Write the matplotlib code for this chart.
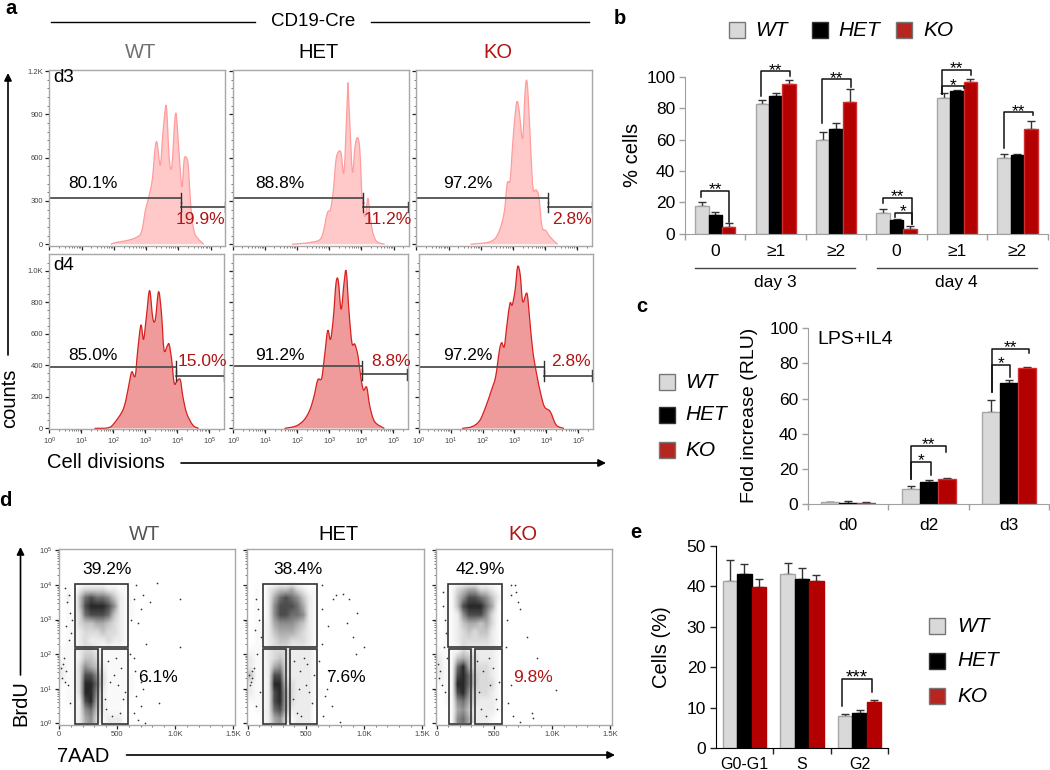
import numpy as np
import matplotlib
matplotlib.use('Agg')
import matplotlib.pyplot as plt
from matplotlib.colors import PowerNorm
from matplotlib.patches import PathPatch, Rectangle
from matplotlib.path import Path
from matplotlib.transforms import ScaledTranslation

plt.rcParams['font.family'] = ['Liberation Sans', 'DejaVu Sans']
plt.rcParams['mathtext.default'] = 'regular'

W, H = 1050, 770
GREY_TXT = '#707070'
RED_TXT = '#b01414'

# panel a histograms: x in decades, y in counts
d3_wt_x = [1.90, 2.09, 2.39, 2.70, 2.86, 2.98, 3.07, 3.19, 3.28, 3.34, 3.44, 3.52, 3.60, 3.64, 3.72, 3.80, 3.89, 3.94, 4.01, 4.11, 4.18, 4.25, 4.31, 4.38, 4.48, 4.60, 4.79]
d3_wt_y = [0, 14, 25, 48, 88, 238, 314, 445, 665, 704, 549, 766, 946, 927, 586, 542, 862, 890, 676, 399, 586, 600, 540, 284, 99, 42, 0]
d3_het_x = [1.84, 2.45, 2.76, 2.94, 3.04, 3.13, 3.21, 3.29, 3.37, 3.46, 3.56, 3.58, 3.63, 3.72, 3.80, 3.88, 3.95, 4.02, 4.11, 4.20, 4.27, 4.36, 4.48, 4.72]
d3_het_y = [0, 14, 48, 215, 242, 376, 584, 642, 630, 503, 999, 1115, 884, 503, 676, 739, 653, 330, 192, 318, 192, 76, 18, 0]
d3_ko_x = [1.68, 2.29, 2.54, 2.72, 2.82, 2.91, 2.99, 3.09, 3.15, 3.21, 3.30, 3.37, 3.42, 3.47, 3.55, 3.62, 3.72, 3.80, 3.90, 4.02, 4.14, 4.38]
d3_ko_y = [0, 18, 76, 215, 422, 445, 699, 953, 983, 884, 734, 1046, 1138, 1023, 653, 388, 376, 330, 122, 95, 53, 0]
d4_wt_x = [1.41, 1.84, 2.02, 2.27, 2.39, 2.52, 2.58, 2.68, 2.76, 2.86, 2.94, 3.03, 3.13, 3.23, 3.31, 3.41, 3.50, 3.58, 3.68, 3.74, 3.82, 3.90, 3.99, 4.09, 4.17, 4.29, 4.48, 4.66]
d4_wt_y = [0, 4, 32, 106, 180, 317, 359, 332, 497, 655, 564, 708, 873, 698, 691, 866, 729, 497, 522, 533, 433, 285, 302, 307, 201, 95, 21, 0]
d4_het_x = [1.60, 1.96, 2.21, 2.39, 2.52, 2.64, 2.76, 2.85, 2.95, 3.04, 3.13, 3.21, 3.28, 3.37, 3.46, 3.53, 3.62, 3.71, 3.80, 3.90, 3.99, 4.07, 4.17, 4.27, 4.42, 4.72]
d4_het_y = [0, 15, 53, 116, 201, 307, 317, 455, 619, 564, 708, 920, 937, 755, 920, 994, 729, 539, 533, 455, 317, 243, 260, 137, 42, 0]
d4_ko_x = [1.36, 1.67, 1.91, 2.10, 2.28, 2.41, 2.53, 2.60, 2.68, 2.77, 2.86, 2.93, 3.02, 3.10, 3.18, 3.26, 3.39, 3.47, 3.57, 3.69, 3.82, 3.94, 4.12, 4.31, 4.55]
d4_ko_y = [0, 11, 49, 137, 243, 328, 497, 543, 518, 666, 793, 782, 877, 1025, 973, 803, 856, 708, 497, 349, 222, 137, 106, 21, 0]

# gates: split position, left gate level, right gate level
d3_split = [4.07, 4.05, 4.07]
d3_left = [323, 323, 323]
d3_right = [261, 261, 261]
d4_split = [3.95, 4.01, 3.94]
d4_left = [389, 393, 389]
d4_right = [334, 342, 334]

d3_pct = ['80.1%', '88.8%', '97.2%']
d3_pct_red = ['19.9%', '11.2%', '2.8%']
d4_pct = ['85.0%', '91.2%', '97.2%']
d4_pct_red = ['15.0%', '8.8%', '2.8%']

# panel d density read by eye, 0-9, columns 50 units wide from 0, rows 0.25 decade, top row 4.0-4.25
dens_wt = ["00000000000000", "01023333221100", "02047877642110", "01048999862110",
           "01137888742110", "01134455432100", "01123334332100", "01123222322100",
           "11123321111100", "11124431111100", "21136542111100", "21138863111110",
           "11139973111110", "01139962111110", "01128952111100", "00126742111000",
           "00125631222000"]
dens_het = ["00000000000000", "01023445321100", "01025787642100", "01026888752100",
            "01026887762100", "01125666542100", "01124555432100", "01123443332100",
            "11123332222100", "21123432222100", "21125632222100", "41128832222100",
            "21129943222100", "21128953222110", "11128953222100", "01127852222000",
            "00125631222000"]
dens_ko = ["00000000000000", "01134553321010", "01146887642010", "01148999751000",
           "01126888631000", "01124554531000", "01123434421000", "01123333321000",
           "11113222221000", "21145432221000", "21179533321000", "21189743321000",
           "11199743331000", "01189633321000", "01167532221000", "00156422221000",
           "00167522210000"]

# stray dots around the dense part
stray_wt_x = [660, 840, 1040, 640, 700, 720, 780, 1040, 750, 620, 680, 640, 700, 660, 860, 700, 720, 640, 680, 740, 610, 650,
              30, 60, 20, 50, 80, 70, 90, 60, 85, 40, 75, 95, 15, 45, 110, 105, 420, 470, 510, 550, 400, 450, 530, 570, 440, 490, 390, 520]
stray_wt_y = [4.0, 4.05, 3.6, 3.6, 3.3, 3.7, 3.5, 2.2, 2.3, 3.0, 2.9, 1.9, 1.2, 0.8, 0.6, 0.5, 1.0, 0.3, 0.1, 0.02, 2.0, 1.5,
              1.7, 1.5, 1.3, 3.9, 3.7, 3.5, 3.2, 2.8, 2.4, 1.9, 1.1, 0.6, 1.6, 1.2, 3.0, 2.6, 1.8, 1.4, 1.1, 0.7, 0.4, 0.2, 1.6, 0.9, 1.2, 1.9, 0.7, 0.3]
stray_het_x = [640, 730, 760, 820, 870, 940, 850, 690, 900, 1000, 930, 640, 700, 680, 720, 650, 610, 660, 790, 640,
               10, 25, 40, 20, 35, 55, 70, 85, 60, 95, 110, 80, 105, 70, 400, 450, 500, 550, 420, 480, 530, 570, 390, 460, 510, 440]
stray_het_y = [4.0, 3.6, 3.7, 3.75, 3.6, 3.2, 2.9, 2.8, 2.5, 2.2, 2.0, 2.3, 1.5, 1.0, 0.5, 0.2, 1.8, 0.8, 0.05, 3.3,
               1.4, 1.2, 1.5, 1.1, 1.3, 1.6, 3.6, 3.3, 2.7, 3.0, 2.5, 2.0, 0.9, 0.5, 1.8, 1.5, 1.1, 0.6, 0.3, 1.9, 0.9, 1.4, 0.7, 0.2, 1.7, 1.0]
stray_ko_x = [640, 680, 690, 700, 720, 640, 870, 1030, 830, 780, 640, 620, 600, 720, 660, 820, 610,
              10, 30, 20, 45, 60, 55, 75, 85, 65, 90, 70, 350, 400, 460, 510, 380, 430, 490, 540, 370, 450, 520]
stray_ko_y = [4.0, 4.0, 3.8, 3.5, 3.3, 3.7, 1.9, 0.95, 0.15, 2.5, 1.1, 0.6, 2.2, 0.05, 0.2, 0.3, 3.0,
              1.7, 1.5, 1.3, 1.1, 3.8, 3.4, 3.0, 2.6, 2.2, 1.9, 0.9, 1.8, 1.5, 1.1, 0.7, 0.4, 0.2, 1.6, 1.2, 0.9, 1.9, 0.4]

d_pct = ['39.2%', '38.4%', '42.9%']
d_pct_low = ['6.1%', '7.6%', '9.8%']

# gates in panel d: upper box, lower left box, lower right box as x0, x1
gate_up = [(133, 592), (128, 593), (101, 561)]
gate_ll = [(133, 335), (128, 325), (110, 300)]
gate_lr = [(370, 592), (363, 593), (335, 561)]

# panel b
b_groups = ['0', '≥1', '≥2', '0', '≥1', '≥2']
b_wt = [17.5, 82.5, 60, 13.5, 86.5, 48.5]
b_het = [12, 88, 66.5, 9, 91, 50]
b_ko = [4.5, 95.5, 84, 3, 97, 67]
b_wt_err = [3, 3, 5, 2.5, 3, 2.5]
b_het_err = [2, 2, 4, 0.5, 0.5, 1]
b_ko_err = [2.5, 2.5, 8.5, 2, 1.5, 5]
# x0, x1, top, left foot, right foot, stars
b_brackets = [(-0.235, 0.229, 27.4, 23.6, 7.7, '**'),
              (0.765, 1.240, 103.8, 88, 100.6, '**'),
              (1.765, 2.246, 98.5, 70.4, 93.4, '**'),
              (2.776, 3.251, 23, 19.8, 6, '**'),
              (2.97, 3.251, 13.4, 10.9, 6, '*'),
              (3.754, 4.235, 104.7, 88.9, 101, '**'),
              (3.754, 4.113, 94.3, 88.9, 93, '*'),
              (4.776, 5.257, 77.4, 55, 75.7, '**')]

# panel c
c_groups = ['d0', 'd2', 'd3']
c_wt = [1, 8.5, 52.5]
c_het = [0.7, 12.5, 69]
c_ko = [0.8, 14.5, 77.5]
c_wt_err = [0.4, 2, 6.5]
c_het_err = [1.2, 1, 1.3]
c_ko_err = [0.5, 0.2, 0.2]
c_brackets = [(0.778, 1.214, 33.2, 14, 29.8, '**'),
              (0.778, 1.031, 24.1, 14, 16.5, '*'),
              (1.782, 2.243, 88.4, 64, 85.8, '**'),
              (1.782, 2.014, 79.3, 64, 72, '*')]

# panel e
e_groups = ['G0-G1', 'S', 'G2']
e_wt = [41.2, 42.9, 8]
e_het = [43, 41.7, 8.7]
e_ko = [39.9, 41.2, 11.5]
e_wt_err = [5.3, 2.9, 0.5]
e_het_err = [2.4, 2.9, 0.8]
e_ko_err = [1.8, 1.6, 0.4]
e_brackets = [(1.702, 2.217, 17, 10.4, 14, '***')]


fig = plt.figure(figsize=(W / 100, H / 100), dpi=100)


def ax_px(l, t, r, b):
    return fig.add_axes([l / W, 1 - b / H, (r - l) / W, (b - t) / H])


def flow_style(ax):
    for s in ax.spines.values():
        s.set_color('#a8a8a8')
        s.set_linewidth(1)
    ax.tick_params(which='major', length=3, width=0.9, color='#222222', labelsize=5.5, labelcolor='#444444', pad=1.5)
    ax.tick_params(which='minor', length=1.5, width=0.5, color='#444444')


# rounded outline that still passes through every read point
def curve_path(xs, ys):
    pts = [(xs[0], ys[0])] + list(zip(xs, ys)) + [(xs[-1], ys[-1])]
    verts = [pts[1]]
    codes = [Path.MOVETO]
    for p0, p1, p2, p3 in zip(pts[:-3], pts[1:-2], pts[2:-1], pts[3:]):
        c1 = (p1[0] + (p2[0] - p0[0]) / 6, p1[1] + (p2[1] - p0[1]) / 6)
        c2 = (p2[0] - (p3[0] - p1[0]) / 6, p2[1] - (p3[1] - p1[1]) / 6)
        verts += [c1, c2, p2]
        codes += [Path.CURVE4] * 3
    return Path(verts, codes)


def hist_panel(box, xs, ys, split, lev_l, lev_r, ylim, yticks, yminor, ylabels, xlabels, fill, edge):
    ax = ax_px(*box)
    ax.add_patch(PathPatch(curve_path(xs, ys), fc=fill, ec=edge, lw=0.9))
    ax.set_xlim(0, 5.46)
    ax.set_ylim(*ylim)
    ax.set_xticks(range(6))
    ax.set_xticks([k + np.log10(m) for k in range(6) for m in range(2, 10) if k + np.log10(m) < 5.46], minor=True)
    ax.set_yticks(yticks)
    ax.set_yticks(yminor, minor=True)
    ax.set_yticklabels(ylabels if ylabels else [''] * len(yticks))
    if xlabels:
        ax.set_xticklabels(['$10^{%d}$' % k for k in range(6)], fontsize=7)
        for lab in ax.get_xticklabels():
            lab.set_transform(lab.get_transform() + ScaledTranslation(6 / 100, 0, fig.dpi_scale_trans))
    else:
        ax.set_xticklabels([''] * 6)
    flow_style(ax)
    ax.plot([0, split], [lev_l, lev_l], color='#505050', lw=1.3)
    ax.plot([split, 5.46], [lev_r, lev_r], color='#505050', lw=1.3)
    ax.plot([split, split], [lev_l - 35, lev_l + 35], color='#303030', lw=1)
    ax.plot([split, split], [lev_r - 35, lev_r + 35], color='#303030', lw=1)
    ax.plot([5.44, 5.44], [lev_r - 35, lev_r + 35], color='#303030', lw=1)
    return ax


# panel a
d3_boxes = [(49.4, 70, 225.4, 246), (232.5, 70, 408.5, 246), (416.4, 70, 592.3, 246)]
d4_boxes = [(49.4, 254.3, 224.2, 429), (233.3, 254.3, 408, 429), (418.7, 254.3, 593, 429)]
d3_xs = [d3_wt_x, d3_het_x, d3_ko_x]
d3_ys = [d3_wt_y, d3_het_y, d3_ko_y]
d4_xs = [d4_wt_x, d4_het_x, d4_ko_x]
d4_ys = [d4_wt_y, d4_het_y, d4_ko_y]
for i in range(3):
    hist_panel(d3_boxes[i], d3_xs[i], d3_ys[i], d3_split[i], d3_left[i], d3_right[i], (-12, 1208),
               [0, 300, 600, 900, 1200], list(range(60, 1200, 60)),
               ['0', '300', '600', '900', '1.2K'] if i == 0 else None, False, '#ffc9c9', '#ff9c9c')
    hist_panel(d4_boxes[i], d4_xs[i], d4_ys[i], d4_split[i], d4_left[i], d4_right[i], (-4, 1103),
               [0, 200, 400, 600, 800, 1000], list(range(50, 1100, 50)),
               ['0', '200', '400', '600', '800', '1.0K'] if i == 0 else None, True, '#ef9b9b', '#d8201f')

# panel d
d_boxes = [(58.5, 549, 235, 725), (247, 549, 424, 725), (435.7, 549, 612, 725)]
dens = [dens_wt, dens_het, dens_ko]
strays = [(stray_wt_x, stray_wt_y), (stray_het_x, stray_het_y), (stray_ko_x, stray_ko_y)]
for i in range(3):
    ax = ax_px(*d_boxes[i])
    grid = np.array([[int(c) for c in row] for row in dens[i]], dtype=float)
    ax.imshow(grid, extent=(0, 700, 0, 4.25), aspect='auto', cmap='gray_r',
              norm=PowerNorm(1.6, vmin=0, vmax=10), interpolation='bilinear', zorder=1)
    ax.scatter(strays[i][0], strays[i][1], s=1.5, color='#333333', lw=0, zorder=2)
    ax.set_xlim(-7, 1514)
    ax.set_ylim(-0.05, 5.04)
    ax.set_xticks([0, 500, 1000, 1500])
    ax.set_xticklabels(['0', '500', '1.0K', '1.5K'])
    ax.set_xticks(list(range(100, 1500, 100)), minor=True)
    ax.set_yticks(range(6))
    ax.set_yticks([k + np.log10(m) for k in range(5) for m in range(2, 10)], minor=True)
    if i == 0:
        ax.set_yticklabels(['$10^{%d}$' % k for k in range(6)], fontsize=6.5)
    else:
        ax.set_yticklabels([''] * 6)
    flow_style(ax)
    for (x0, x1), y0, y1 in [(gate_up[i], 2.2, 4.03), (gate_ll[i], -0.03, 2.15), (gate_lr[i], -0.03, 2.15)]:
        ax.add_patch(Rectangle((x0, y0), x1 - x0, y1 - y0, fill=False, ec='#333333', lw=1.2, zorder=3))


def bars(ax, wt, het, ko, wt_err, het_err, ko_err, width, edge_red):
    x = np.arange(len(wt))
    styles = [(wt, wt_err, '#d9d9d9', '#a6a6a6', -width),
              (het, het_err, '#000000', '#000000', 0),
              (ko, ko_err, '#b30000', edge_red, width)]
    for vals, errs, col, ec, off in styles:
        ax.bar(x + off, vals, width, color=col, edgecolor=ec, linewidth=1, zorder=2)
        ax.errorbar(x + off, vals, yerr=[[0] * len(vals), errs], fmt='none', ecolor='#333333',
                    elinewidth=1, capsize=2.6, capthick=1, zorder=1, clip_on=False)


def brackets(ax, items, star_gap, star_size=12.5):
    for x0, x1, top, f0, f1, stars in items:
        ax.plot([x0, x0, x1, x1], [f0, top, top, f1], color='#111111', lw=1.1, zorder=4, clip_on=False)
        ax.text((x0 + x1) / 2, top + star_gap, stars, ha='center', va='center', fontsize=star_size, clip_on=False)


# panel b
ax = ax_px(685, 77, 1047.7, 233.7)
bars(ax, b_wt, b_het, b_ko, b_wt_err, b_het_err, b_ko_err, 0.222, '#d03030')
brackets(ax, b_brackets, 0.5)
ax.set_xlim(-0.5, 5.5)
ax.set_ylim(0, 100)
ax.set_yticks([0, 20, 40, 60, 80, 100])
ax.set_xticks(np.arange(-0.5, 6, 1))
ax.set_xticklabels([])
ax.tick_params(color='#a0a0a0', length=4, width=1, labelsize=12.5, pad=3)
for s in ['top', 'right']:
    ax.spines[s].set_visible(False)
ax.spines['left'].set_color('#a0a0a0')
ax.spines['bottom'].set_color('#a0a0a0')
for i, g in enumerate(b_groups):
    ax.text(i, -11.5, g, ha='center', va='center', fontsize=12.5, clip_on=False)

# panel c
ax = ax_px(808, 328.3, 1049.3, 504)
bars(ax, c_wt, c_het, c_ko, c_wt_err, c_het_err, c_ko_err, 0.224, '#d03030')
brackets(ax, c_brackets, 0.5)
ax.set_xlim(-0.5, 2.5)
ax.set_ylim(0, 100)
ax.set_yticks([0, 20, 40, 60, 80, 100])
ax.set_xticks(np.arange(-0.5, 3, 1))
ax.set_xticklabels([])
ax.tick_params(color='#a0a0a0', length=4, width=1, labelsize=12.5, pad=3)
for s in ['top', 'right']:
    ax.spines[s].set_visible(False)
ax.spines['left'].set_color('#a0a0a0')
ax.spines['bottom'].set_color('#a0a0a0')
for i, g in enumerate(c_groups):
    ax.text(i, -12, g, ha='center', va='center', fontsize=12.5, clip_on=False)

# panel e
ax = ax_px(715.7, 545.7, 888.3, 748.3)
bars(ax, e_wt, e_het, e_ko, e_wt_err, e_het_err, e_ko_err, 0.25, '#b30000')
brackets(ax, e_brackets, 0.3, star_size=13.5)
ax.set_xlim(-0.5, 2.5)
ax.set_ylim(0, 50)
ax.set_yticks([0, 10, 20, 30, 40, 50])
ax.set_xticks([0.5, 1.5, 2.5])
ax.set_xticklabels([])
ax.tick_params(color='#222222', length=4, width=1, labelsize=12.5, pad=3)
for s in ['top', 'right']:
    ax.spines[s].set_visible(False)
for i, g in enumerate(e_groups):
    ax.text(i, -4, g, ha='center', va='center', fontsize=11.5, clip_on=False)

# overlay in pixel coordinates for free text, arrows and legends
ov = fig.add_axes([0, 0, 1, 1])
ov.set_xlim(0, W)
ov.set_ylim(H, 0)
ov.axis('off')
ov.patch.set_alpha(0)


def txt(x, y, s, size=12.5, color='black', ha='center', **kw):
    ov.text(x, y, s, fontsize=size, color=color, ha=ha, va='center', **kw)


def arrow(x0, y0, x1, y1):
    ov.annotate('', xy=(x1, y1), xytext=(x0, y0),
                arrowprops=dict(arrowstyle='-|>', color='black', lw=1.2, mutation_scale=11, shrinkA=0, shrinkB=0))


def legend(xs, ys, text_xs, ko_col='#b52620'):
    names = ['WT', 'HET', 'KO']
    cols = ['#d9d9d9', '#000000', ko_col]
    edges = ['#777777', '#333333', '#777777']
    for i in range(3):
        ov.add_patch(Rectangle((xs[i], ys[i]), 16, 16, fc=cols[i], ec=edges[i], lw=1))
        txt(text_xs[i], ys[i] + 8, names[i], size=15, ha='left', style='italic')


for s, x, y in [('a', 11, 8), ('b', 620, 18), ('c', 642, 307), ('d', 5, 501), ('e', 636, 533)]:
    txt(x, y, s, size=14.5, weight='bold')

txt(313.6, 21, 'CD19-Cre', size=13.5)
ov.plot([51.4, 255], [22, 22], color='black', lw=1)
ov.plot([371, 589], [22, 22], color='black', lw=1)
txt(140.4, 52, 'WT', size=14.5, color=GREY_TXT)
txt(319, 52, 'HET', size=14.5)
txt(498, 52, 'KO', size=14.5, color=RED_TXT)

txt(53.4, 77, 'd3', size=13.5, ha='left')
txt(53.4, 265, 'd4', size=13.5, ha='left')
for x, s in zip([92.5, 280, 467.4], d3_pct):
    txt(x, 183, s)
for x, s in zip([200.5, 387.5, 572], d3_pct_red):
    txt(x, 219, s, color=RED_TXT)
for x, s in zip([92.5, 280, 467.4], d4_pct):
    txt(x, 355, s)
for x, s in zip([202.5, 390.7, 571.4], d4_pct_red):
    txt(x, 362, s, color=RED_TXT)

arrow(8, 355, 8, 73)
txt(10, 398, 'counts', size=14.5, rotation=90)
txt(47.4, 463, 'Cell divisions', size=14.5, ha='left')
arrow(181, 463, 606, 463)

txt(145, 534, 'WT', size=14.5, color='#555555')
txt(338, 534, 'HET', size=14.5)
txt(523, 534, 'KO', size=14.5, color=RED_TXT)
for x, s in zip([107.5, 297.7, 480.4], d_pct):
    txt(x, 569, s)
for x, s, c in zip([158, 346.4, 532.6], d_pct_low, ['black', 'black', RED_TXT]):
    txt(x, 678, s, color=c)
arrow(20.5, 675, 20.5, 547)
txt(20.5, 703, 'BrdU', size=14.5, rotation=90)
txt(56.5, 757, '7AAD', size=14.5, ha='left')
arrow(126.5, 755, 615, 755)

legend([728.5, 812, 896], [22, 22, 22], [755, 838, 923])
ov.plot([695, 855], [268, 268], color='#444444', lw=1)
ov.plot([877, 1037], [268, 268], color='#444444', lw=1)
txt(775, 282, 'day 3', size=12.5)
txt(956, 282, 'day 4', size=12.5)
txt(632, 155, '% cells', size=14.5, rotation=90)

legend([659, 659, 659], [374, 407, 442], [685, 685, 685])
txt(817, 339, 'LPS+IL4', size=14, ha='left')
txt(749, 415.7, 'Fold increase (RLU)', size=14, rotation=90)

legend([929, 929, 929], [618, 653, 688], [957, 957, 957])
txt(661.7, 646.7, 'Cells (%)', size=14.5, rotation=90)

fig.savefig('out.png', dpi=100)
